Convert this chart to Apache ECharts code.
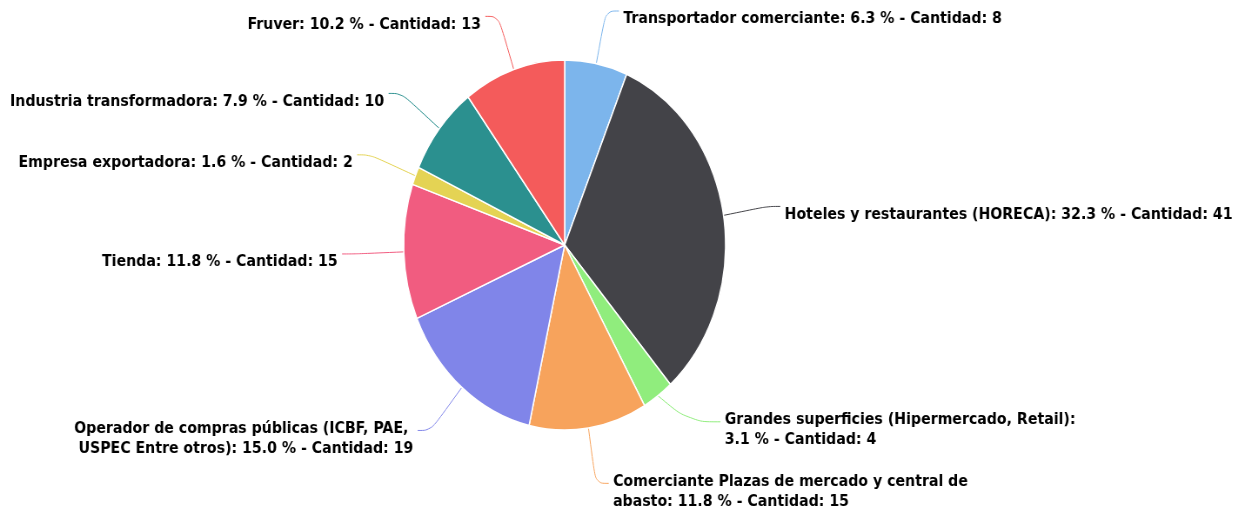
<!DOCTYPE html>
<html>
<head>
<meta charset="utf-8">
<script src="https://cdn.jsdelivr.net/npm/echarts@6/dist/echarts.min.js"></script>
<style>
  html, body { margin: 0; padding: 0; background: #fff; overflow: hidden; }
  /* la captura original está comprimida en horizontal (torta elíptica) */
  #chart { width: 1419px; height: 513px; transform: scaleX(0.87); transform-origin: 0 0; }
</style>
</head>
<body>
<div id="chart"></div>
<script>
// categorías y cantidades
const categorias = [
  'Transportador comerciante',
  'Hoteles y restaurantes (HORECA)',
  'Grandes superficies (Hipermercado, Retail)',
  'Comerciante Plazas de mercado y central de abasto',
  'Operador de compras públicas (ICBF, PAE, USPEC Entre otros)',
  'Tienda',
  'Empresa exportadora',
  'Industria transformadora',
  'Fruver'
]
const cantidades = [8, 41, 4, 15, 19, 15, 2, 10, 13]
const colores = ['#7cb5ec', '#434348', '#90ed7d', '#f7a35c', '#8085e9', '#f15c80', '#e4d354', '#2b908f', '#f45b5b']

// etiquetas largas que se parten en dos líneas
const partidas = [2, 3, 4]

const total = cantidades.reduce((s, v) => s + v, 0)
const chart = echarts.init(document.getElementById('chart'))

const option = {
  animation: false,
  series: [{
    type: 'pie',
    center: [649, 245],
    radius: 185,
    startAngle: 90,
    clockwise: true,
    avoidLabelOverlap: true,
    itemStyle: { borderColor: '#fff', borderWidth: 1.5 },
    label: {
      show: true,
      position: 'outside',
      color: '#000',
      fontFamily: 'DejaVu Sans',
      fontWeight: 'bold',
      fontSize: 16.25,
      lineHeight: 20,
      width: 570,
      overflow: 'break',
      formatter: p => `${p.name}: ${(p.value / total * 100).toFixed(1)} % - Cantidad: ${p.value}`
    },
    labelLine: { show: true, length: 56, length2: 15, smooth: 0.4, lineStyle: { width: 1 } },
    labelLayout: { dy: 8 },
    data: categorias.map((name, i) => ({
      name,
      value: cantidades[i],
      itemStyle: { color: colores[i] },
      label: partidas.includes(i) ? { width: 420 } : undefined,
      // Grandes superficies: conector más corto y horizontal
      labelLine: i === 2 ? { length: 32, length2: 36 } : undefined
    }))
  }]
}

chart.setOption(option)
</script>
</body>
</html>
